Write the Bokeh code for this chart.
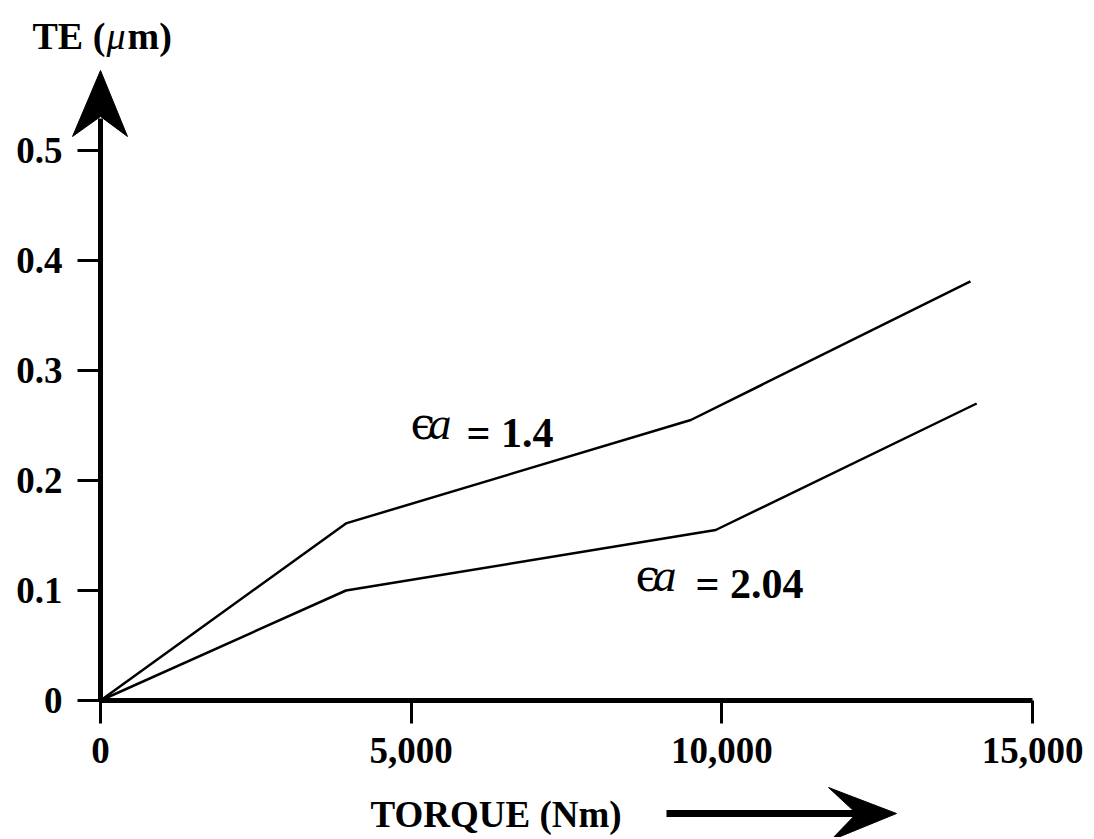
from bokeh.plotting import figure
from bokeh.models import Range1d, FixedTicker, NumeralTickFormatter, LinearAxis, Label, Arrow
from bokeh.embed import file_html
from bokeh.resources import INLINE

# ---- data ----
torque_14 = [0, 3950, 9500, 14000]
te_14 = [0, 0.161, 0.255, 0.381]
torque_204 = [0, 3950, 9900, 14100]
te_204 = [0, 0.100, 0.155, 0.270]
x_ticks = [0, 5000, 10000, 15000]
x_tick_labels = ["0", "5,000", "10,000", "15,000"]
y_ticks = [0, 0.1, 0.2, 0.3, 0.4, 0.5]
y_tick_labels = ["0", "0.1", "0.2", "0.3", "0.4", "0.5"]

W, H = 1090, 837
X0_PX, X_PX_PER = 100.0, 310.7 / 5000.0
Y0_PX, Y_PX_PER = 700.0, 1100.0
TEXT_DY = 15  # observed baseline offset of Label text


def px2x(px):
    return (px - X0_PX) / X_PX_PER


def py2y(py):
    return (Y0_PX - py) / Y_PX_PER


p = figure(width=W, height=H, output_backend="svg", toolbar_location=None,
           x_range=Range1d(px2x(0), px2x(W)),
           y_range=Range1d(py2y(H), py2y(0)),
           min_border=0, x_axis_location=None, y_axis_location=None)
p.outline_line_color = None
p.background_fill_color = "white"
p.border_fill_color = "white"
for g in p.grid:
    g.visible = False

FONT = "Liberation Serif"

xa = LinearAxis(fixed_location=0, bounds=(0, 15000),
                ticker=FixedTicker(ticks=x_ticks, minor_ticks=[]),
                formatter=NumeralTickFormatter(format="0,0"),
                major_label_overrides={float(t): l for t, l in zip(x_ticks, x_tick_labels)})
ya = LinearAxis(fixed_location=0, bounds=(0, 0.5),
                ticker=FixedTicker(ticks=y_ticks, minor_ticks=[]),
                formatter=NumeralTickFormatter(format="0.[0]"),
                major_label_overrides={float(t): l for t, l in zip(y_ticks, y_tick_labels)})
for ax, standoff in ((xa, 14), (ya, 15)):
    ax.axis_line_width = 5
    ax.axis_line_color = "black"
    ax.major_tick_line_width = 3
    ax.major_tick_line_color = "black"
    ax.major_tick_out = 23
    ax.major_tick_in = 0
    ax.minor_tick_out = 0
    ax.minor_tick_in = 0
    ax.major_label_text_font = FONT
    ax.major_label_text_font_style = "bold"
    ax.major_label_text_font_size = "37px"
    ax.major_label_text_color = "black"
    ax.major_label_standoff = standoff
p.add_layout(xa, "below")
p.add_layout(ya, "left")

# y-axis shaft up to the arrow head
p.add_layout(Arrow(end=None, x_start=0, y_start=0, x_end=0, y_end=py2y(118),
                   line_width=5, line_color="black"))
# y arrow head (decoration)
p.patch([px2x(v) for v in (100, 72, 100, 127)],
        [py2y(v) for v in (70, 136, 116, 136)], color="black", line_width=1)

# x-direction arrow under the axis title
p.add_layout(Arrow(end=None, x_start=px2x(666), y_start=py2y(813),
                   x_end=px2x(860), y_end=py2y(813), line_width=7, line_color="black"))
p.patch([px2x(v) for v in (896, 828, 856, 830)],
        [py2y(v) for v in (813, 787, 813, 840)], color="black", line_width=1)

# data lines
p.line(torque_14, te_14, line_color="black", line_width=2.5)
p.line(torque_204, te_204, line_color="black", line_width=2.5)


def lab(px, py, text, size, style="bold", font=FONT):
    p.add_layout(Label(x=px2x(px), y=py2y(py - TEXT_DY), text=text, text_font=font,
                       text_font_size=size, text_font_style=style,
                       text_color="black", text_baseline="alphabetic",
                       text_align="left"))


# axis titles
lab(32, 50, "TE (", "38px")
lab(106, 50, "\u03bc", "38px", style="italic")
lab(127, 50, "m)", "38px")
lab(370, 829, "TORQUE (Nm)", "37px")

# curve annotations
lab(410, 438, "\u03f5", "44px", style="normal", font="DejaVu Serif")
lab(428, 438, "a", "46px", style="italic")
lab(466, 447, "= 1.4", "42px")

lab(635, 590, "\u03f5", "44px", style="normal", font="DejaVu Serif")
lab(653, 590, "a", "46px", style="italic")
lab(695, 598, "= 2.04", "42px")

open("out.html", "w").write(file_html(p, INLINE))
